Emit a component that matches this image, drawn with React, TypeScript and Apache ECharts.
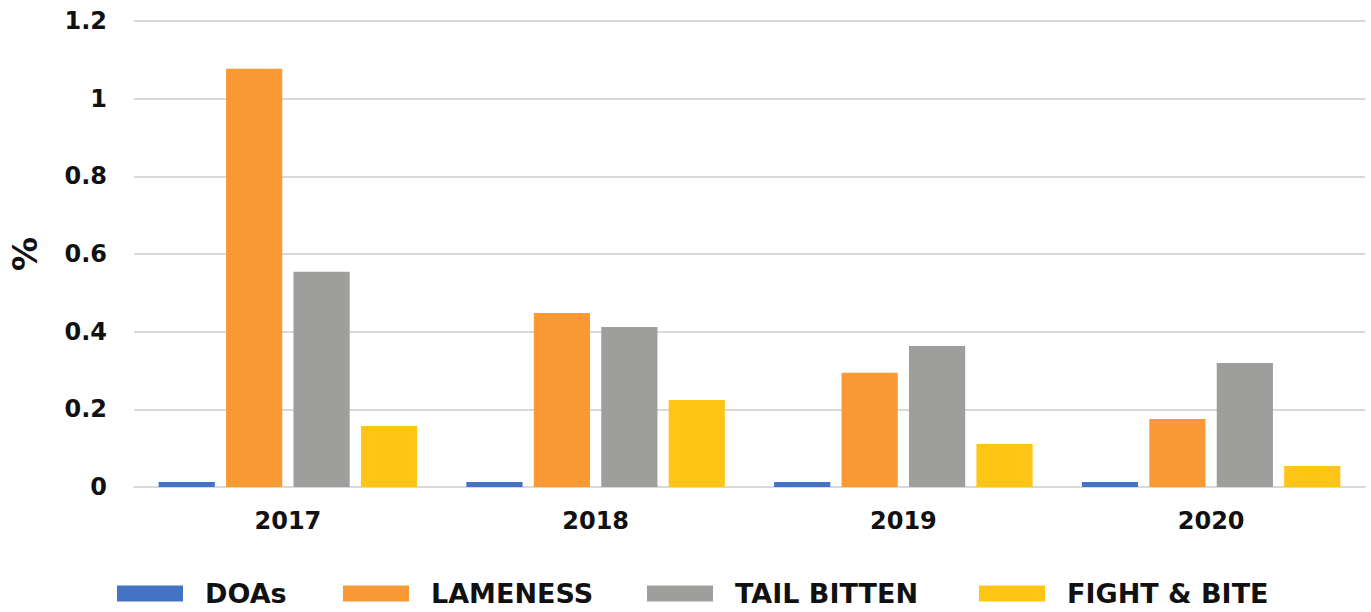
import React, { useEffect, useRef } from "react";
import * as echarts from "echarts";

const categories = ["2017", "2018", "2019", "2020"];
const seriesNames = ["DOAs", "LAMENESS", "TAIL BITTEN", "FIGHT & BITE"];
const doas = [0.013, 0.013, 0.013, 0.013];
const lameness = [1.077, 0.448, 0.294, 0.175];
const tailBitten = [0.554, 0.412, 0.363, 0.319];
const fightBite = [0.157, 0.224, 0.111, 0.054];
const yTicks = { min: 0, max: 1.2, interval: 0.2 };

const FONT = "'DejaVu Sans', sans-serif";
const colors = ["#4472C4", "#F99A35", "#9E9E9C", "#FFC516"];
const legendLeft = [117, 343, 647, 979];

export default function App() {
  const ref = useRef<HTMLDivElement>(null);
  useEffect(() => {
    const chart = echarts.init(ref.current!, null, { renderer: "svg" });
    const values = [doas, lameness, tailBitten, fightBite];
    chart.setOption({
      animation: false,
      textStyle: { fontFamily: FONT },
      grid: { left: 130, right: 6, top: 21, bottom: 125 },
      legend: seriesNames.map((n, i) => ({
        left: legendLeft[i],
        top: 580,
        padding: 0,
        itemWidth: 66,
        itemHeight: 16,
        icon: "rect",
        textStyle: {
          fontFamily: FONT,
          fontWeight: 700,
          fontSize: 27,
          color: "#111",
          padding: [0, 0, 0, 17],
        },
        data: [n],
      })),
      xAxis: {
        type: "category",
        data: categories,
        axisLine: { lineStyle: { color: "#d9d9d9", width: 2 } },
        axisTick: { show: false },
        axisLabel: {
          fontFamily: FONT,
          fontWeight: 700,
          fontSize: 24,
          color: "#111",
          margin: 22,
        },
      },
      yAxis: {
        type: "value",
        min: yTicks.min,
        max: yTicks.max,
        interval: yTicks.interval,
        name: "%",
        nameLocation: "middle",
        nameGap: 92,
        nameRotate: 90,
        nameTextStyle: { fontFamily: FONT, fontWeight: 700, fontSize: 34, color: "#111" },
        axisLine: { show: false },
        axisTick: { show: false },
        splitLine: { lineStyle: { color: "#d9d9d9", width: 2 } },
        axisLabel: {
          fontFamily: FONT,
          fontWeight: 700,
          fontSize: 24,
          color: "#111",
          margin: 27,
          formatter: (v: number) => String(Math.round(v * 10) / 10),
        },
      },
      series: seriesNames.map((n, i) => ({
        name: n,
        type: "bar",
        data: values[i],
        itemStyle: { color: colors[i] },
        barGap: "20%",
        barCategoryGap: "16%",
      })),
    });
    return () => chart.dispose();
  }, []);
  return (
    <div
      ref={ref}
      style={{ position: "absolute", left: 0, top: 0, width: 1371, height: 612 }}
    />
  );
}
